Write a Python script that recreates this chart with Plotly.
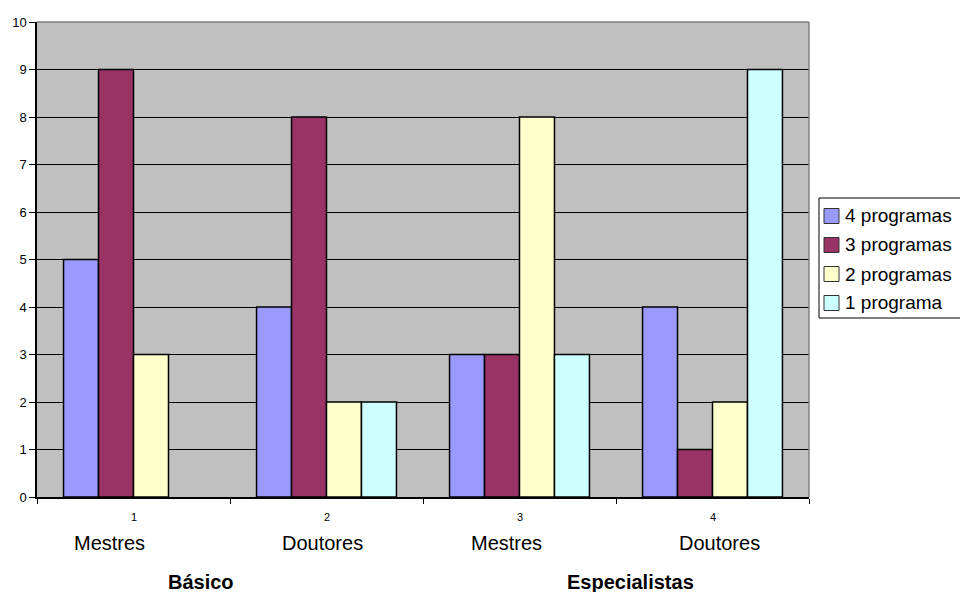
import plotly.graph_objects as go

# Program counts per group of course level / degree
groups = [1, 2, 3, 4]
group_labels = ["1", "2", "3", "4"]
degree_labels = ["Mestres", "Doutores", "Mestres", "Doutores"]
level_labels = ["Básico", "Especialistas"]

series_names = ["4 programas", "3 programas", "2 programas", "1 programa"]
series_values = [
    [5, 4, 3, 4],
    [9, 8, 3, 1],
    [3, 2, 8, 2],
    [None, 2, 3, 9],
]
series_colors = ["#9999FF", "#993366", "#FFFFCC", "#CCFFFF"]

fig = go.Figure()
for name, vals, col in zip(series_names, series_values, series_colors):
    fig.add_trace(go.Bar(
        x=groups, y=vals, name=name, showlegend=False,
        marker=dict(color=col, line=dict(color="#000000", width=1.5)),
    ))

W, H = 960, 592
ML, MR, MT, MB = 37, 151, 22, 95
PW, PH = W - ML - MR, H - MT - MB


def px_x(p):
    """pixel column -> paper x"""
    return (p - ML) / PW


def px_y(p):
    """pixel row -> paper y"""
    return (H - MB - p) / PH


font = "Liberation Sans, Arial, sans-serif"
annotations = []
shapes = []

# small category numbers under the axis
for gx, lab in zip(groups, group_labels):
    annotations.append(dict(x=gx, y=px_y(517), xref="x", yref="paper", yanchor="middle",
                            text=lab, showarrow=False,
                            font=dict(family=font, size=11, color="#000")))
# degree labels
for cx, lab in zip([109, 322, 506, 719], degree_labels):
    annotations.append(dict(x=px_x(cx), y=px_y(543), xref="paper", yref="paper",
                            xanchor="center", yanchor="middle",
                            text=lab, showarrow=False,
                            font=dict(family=font, size=20, color="#000")))
# level labels
for cx, lab in zip([201, 630], level_labels):
    annotations.append(dict(x=px_x(cx), y=px_y(582), xref="paper", yref="paper",
                            xanchor="center", yanchor="middle",
                            text="<b>" + lab + "</b>", showarrow=False,
                            font=dict(family=font, size=20, color="#000")))

# legend box with swatches
shapes.append(dict(type="rect", xref="paper", yref="paper",
                   x0=px_x(819), x1=px_x(975), y0=px_y(318), y1=px_y(198),
                   fillcolor="#FFFFFF", line=dict(color="#000000", width=1)))
row_y = [216, 245, 274, 303]
for ry, name, col in zip(row_y, series_names, series_colors):
    shapes.append(dict(type="rect", xref="paper", yref="paper",
                       x0=px_x(824), x1=px_x(839), y0=px_y(ry + 7.5), y1=px_y(ry - 7.5),
                       fillcolor=col, line=dict(color="#333333", width=1)))
    annotations.append(dict(x=px_x(843), y=px_y(ry), xref="paper", yref="paper",
                            xanchor="left", yanchor="middle", text=name, showarrow=False,
                            font=dict(family=font, size=19, color="#000")))

# grey frame on top and right of the plot area
shapes.append(dict(type="line", xref="paper", yref="paper", x0=0, x1=1, y0=1, y1=1,
                   line=dict(color="#808080", width=1.5), layer="above"))
shapes.append(dict(type="line", xref="paper", yref="paper", x0=1, x1=1, y0=0, y1=1,
                   line=dict(color="#808080", width=1.5), layer="above"))

fig.update_layout(
    width=W, height=H,
    margin=dict(l=ML, r=MR, t=MT, b=MB, autoexpand=False),
    paper_bgcolor="#FFFFFF",
    plot_bgcolor="#C0C0C0",
    barmode="group",
    bargap=0.275,
    bargroupgap=0,
    font=dict(family=font, color="#000000"),
    showlegend=False,
    annotations=annotations,
    shapes=shapes,
    xaxis=dict(
        range=[0.5, 4.5],
        tickvals=[0.5, 1.5, 2.5, 3.5, 4.5],
        ticktext=["", "", "", "", ""],
        ticks="outside", ticklen=5, tickcolor="#000", tickwidth=1,
        showgrid=False, zeroline=False,
        showline=True, linecolor="#000", linewidth=1.5,
    ),
    yaxis=dict(
        range=[0, 10], dtick=1,
        ticks="outside", ticklen=6, tickcolor="#000", tickwidth=1,
        tickfont=dict(family=font, size=13, color="#000"),
        showgrid=True, gridcolor="#000000", gridwidth=1,
        zeroline=False,
        showline=True, linecolor="#000", linewidth=1.5,
    ),
)

fig.write_html("out.html")
